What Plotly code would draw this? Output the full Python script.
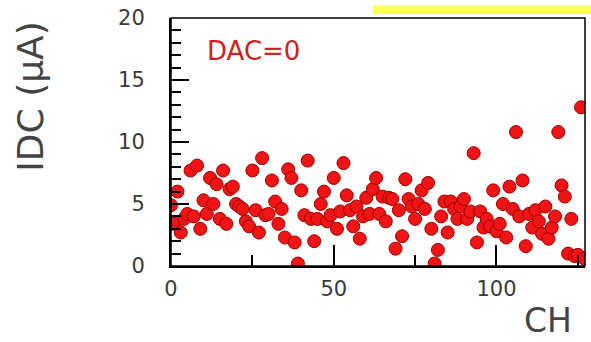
import plotly.graph_objects as go

# Channel numbers and measured currents (uA) at DAC=0
channels = list(range(128))
idc_values = [
    4.9, 3.4, 6.0, 2.7, 3.8, 4.2, 7.7, 4.0, 8.1, 3.0,
    5.3, 4.2, 7.1, 5.0, 6.6, 3.8, 7.7, 3.4, 6.2, 6.4,
    5.0, 4.8, 4.6, 3.6, 3.2, 7.7, 4.5, 2.7, 8.7, 4.1,
    4.2, 6.9, 5.2, 3.4, 4.6, 2.3, 7.8, 7.1, 1.9, 0.2,
    6.1, 4.1, 8.5, 3.8, 2.0, 3.8, 5.0, 6.0, 3.6, 4.1,
    7.1, 3.0, 4.4, 8.3, 5.7, 4.5, 3.2, 4.8, 2.2, 4.0,
    5.5, 4.2, 6.2, 7.1, 4.2, 5.6, 3.6, 5.5, 5.4, 1.4,
    4.5, 2.4, 7.0, 5.4, 4.8, 3.8, 5.0, 6.1, 4.6, 6.7,
    3.0, 0.2, 1.3, 4.0, 5.2, 2.7, 5.2, 4.6, 3.8, 4.8,
    5.4, 3.8, 4.4, 9.1, 1.9, 4.4, 3.1, 3.8, 3.2, 6.1,
    2.8, 3.4, 5.0, 2.3, 6.4, 4.6, 10.8, 4.0, 6.9, 1.6,
    4.2, 3.1, 4.5, 3.6, 2.6, 4.8, 2.2, 3.1, 4.0, 10.8,
    6.5, 5.6, 1.0, 3.8, 0.8, 0.9, 12.8, 0.6,
]
x_ticks = [0, 50, 100]
y_ticks = [0, 5, 10, 15, 20]
label_text = "DAC=0"
y_title = "IDC (μA)"
x_title = "CH"

fig = go.Figure()
fig.add_trace(go.Scatter(
    x=channels, y=idc_values, mode="markers",
    marker=dict(size=13, color="#f01414", line=dict(width=1, color="#a00000")),
    showlegend=False, cliponaxis=True,
))

tickfont = dict(family="DejaVu Sans", size=21, color="#3a3a3a")

fig.update_layout(
    width=591, height=342,
    margin=dict(l=171, r=6, t=11, b=76),
    paper_bgcolor="white", plot_bgcolor="white",
    xaxis=dict(
        range=[0, 127.2], tickmode="array", tickvals=x_ticks,
        ticks="inside", ticklen=21, tickwidth=1.5, tickcolor="black",
        minor=dict(dtick=25, tick0=0, ticks="inside", ticklen=11, tickwidth=1.5, tickcolor="black"),
        showline=True, linewidth=2, linecolor="black",
        showgrid=False, zeroline=False, tickfont=tickfont, ticklabelstandoff=3,
        ticklabeloverflow="allow",
    ),
    yaxis=dict(
        range=[0, 20], tickmode="array", tickvals=y_ticks,
        ticks="inside", ticklen=18, tickwidth=1.5, tickcolor="black",
        minor=dict(dtick=1, tick0=0, ticks="inside", ticklen=10, tickwidth=1.5, tickcolor="black"),
        showline=True, linewidth=2, linecolor="black",
        showgrid=False, zeroline=False, tickfont=tickfont, ticklabelstandoff=20,
        ticklabeloverflow="allow",
    ),
    shapes=[
        dict(type="rect", xref="paper", yref="paper", x0=0, x1=1, y0=0, y1=1,
             line=dict(color="black", width=1.5), layer="above"),
        dict(type="rect", xref="paper", yref="paper", x0=0.488, x1=1.02, y0=1.0157, y1=1.05,
             line=dict(width=0), fillcolor="#ffff5a"),
    ],
    annotations=[
        dict(text=label_text, xref="paper", yref="paper", x=(205 - 171) / 414, y=1 - (45 - 11) / 255,
             xanchor="left", yanchor="middle", showarrow=False,
             font=dict(family="DejaVu Sans", size=26, color="#d02020")),
        dict(text=y_title, xref="paper", yref="paper", x=-(171 - 31) / 414, y=1 - (92 - 11) / 255,
             xanchor="center", yanchor="middle", textangle=-90, showarrow=False,
             font=dict(family="DejaVu Sans", size=36, color="#444444")),
        dict(text=x_title, xref="paper", yref="paper", x=(548 - 171) / 414, y=-(322 - 266) / 255,
             xanchor="center", yanchor="middle", showarrow=False,
             font=dict(family="DejaVu Sans", size=33, color="#444444")),
    ],
)

fig.write_html("out.html")
